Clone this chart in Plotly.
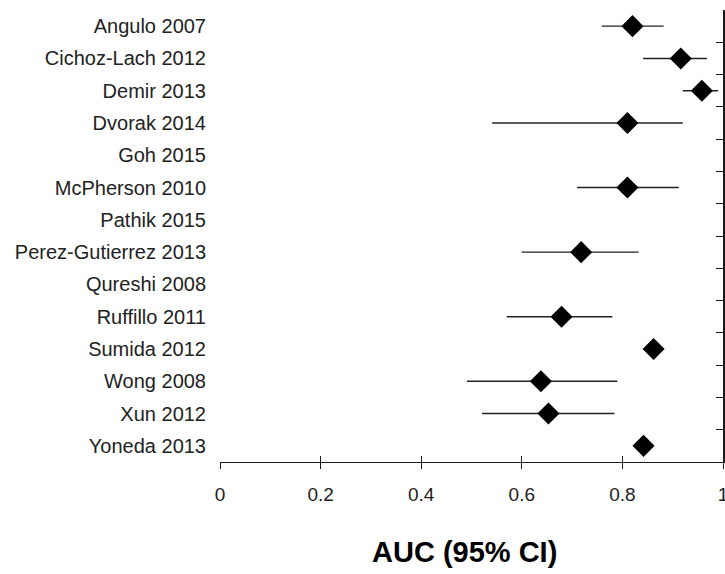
import plotly.graph_objects as go

studies = ["Angulo 2007", "Cichoz-Lach 2012", "Demir 2013", "Dvorak 2014", "Goh 2015",
           "McPherson 2010", "Pathik 2015", "Perez-Gutierrez 2013", "Qureshi 2008",
           "Ruffillo 2011", "Sumida 2012", "Wong 2008", "Xun 2012", "Yoneda 2013"]
auc = [0.820, 0.916, 0.958, 0.810, None, 0.810, None, 0.718, None, 0.679, 0.862, 0.638, 0.653, 0.842]
ci_low = [0.759, 0.841, 0.920, 0.541, None, 0.710, None, 0.600, None, 0.570, 0.850, 0.491, 0.521, 0.830]
ci_high = [0.882, 0.968, 0.990, 0.920, None, 0.912, None, 0.832, None, 0.780, 0.875, 0.790, 0.784, 0.855]
x_ticks = [0, 0.2, 0.4, 0.6, 0.8, 1]
x_tick_labels = ["0", "0.2", "0.4", "0.6", "0.8", "1"]
x_title = "AUC (95% CI)"

err_plus = [(h - a) if a is not None else None for a, h in zip(auc, ci_high)]
err_minus = [(a - l) if a is not None else None for a, l in zip(auc, ci_low)]

FONT = "Liberation Sans, Arial, sans-serif"
INK = "#1a1a1a"
n = len(studies)

fig = go.Figure()
fig.add_trace(go.Scatter(
    x=auc, y=studies, mode="markers",
    marker=dict(symbol="diamond", size=17, color="black", line=dict(width=0)),
    error_x=dict(type="data", symmetric=False, array=err_plus, arrayminus=err_minus,
                 color="#222222", thickness=1.4, width=0),
    showlegend=False, hoverinfo="x+y", cliponaxis=False,
))
# invisible helper trace so the overlay axes (crossing ticks, right frame) render
fig.add_trace(go.Scatter(x=[0.5], y=[0], xaxis="x2", yaxis="y2", mode="markers",
                         marker=dict(opacity=0), showlegend=False, hoverinfo="skip"))

fig.update_layout(
    width=725, height=574,
    margin=dict(l=220, r=2, t=10, b=112),
    paper_bgcolor="white", plot_bgcolor="white",
    font=dict(family=FONT, color=INK),
    xaxis=dict(range=[0, 1], tickvals=x_ticks, ticktext=x_tick_labels, automargin=False,
               showline=True, linecolor=INK, linewidth=1.2, ticks="outside", ticklen=6,
               tickcolor=INK, tickwidth=1.2, showgrid=False, zeroline=False,
               tickfont=dict(size=19, color="#222222", family=FONT),
               ticklabelstandoff=9, ticklabeloverflow="allow"),
    xaxis2=dict(range=[0, 1], overlaying="x", anchor="y2", side="bottom", automargin=False,
                tickvals=x_ticks, ticks="inside", ticklen=6, tickcolor=INK, tickwidth=1.2,
                showticklabels=False, showgrid=False, zeroline=False, showline=False),
    yaxis=dict(type="category", categoryorder="array", categoryarray=studies, automargin=False,
               range=[n - 0.5, -0.5], ticks="", showline=False, showgrid=False,
               zeroline=False, tickfont=dict(size=20, color="#222222", family=FONT),
               ticklabelstandoff=13),
    yaxis2=dict(overlaying="y", side="right", anchor="x2", range=[n - 0.5, -0.5], automargin=False,
                tickvals=[i - 0.5 for i in range(n + 1)], ticks="inside", ticklen=7,
                tickcolor=INK, tickwidth=1.2, showline=True, linecolor=INK, linewidth=1.5,
                showticklabels=False, showgrid=False, zeroline=False),
    annotations=[dict(text="<b>" + x_title + "</b>", xref="paper", yref="paper",
                      x=0.486, y=-0.2, xanchor="center", yanchor="middle", showarrow=False,
                      font=dict(size=29, color="black", family=FONT))],
)

fig.write_html("out.html", config={"displayModeBar": False},
               post_script="document.body.style.margin='0';document.body.style.overflow='hidden';")
